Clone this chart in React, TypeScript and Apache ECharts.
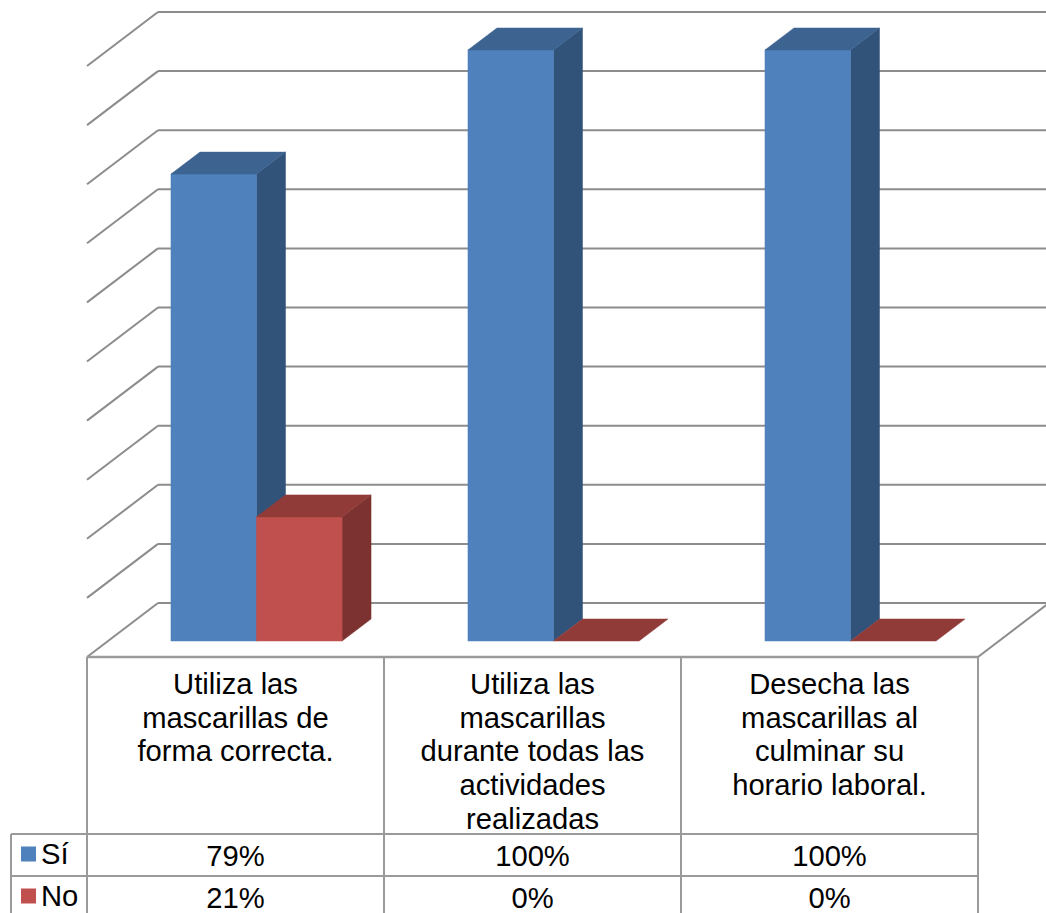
import React, { useEffect, useRef } from "react";
import * as echarts from "echarts";

const categories = [
  "Utiliza las\nmascarillas de\nforma correcta.",
  "Utiliza las\nmascarillas\ndurante todas las\nactividades\nrealizadas",
  "Desecha las\nmascarillas al\nculminar su\nhorario laboral.",
];
const siValues = [79, 100, 100];
const noValues = [21, 0, 0];
const gridTicks = [0, 10, 20, 30, 40, 50, 60, 70, 80, 90, 100];
const seriesNames = ["Sí", "No"];

const FONT = "'Liberation Sans', Arial, sans-serif";
const FONT_SIZE = 29.2;
const GRID_COLOR = "#8c8c8c";
const TABLE_COLOR = "#9a9a9a";

// geometry of the pseudo 3D box, relative to the plane of the bars
const FRONT_Y = 16;
const BACK = { x: 71, y: -38 };
const BAR_DEPTH = { x: 29, y: -22 };
const BAR_OFFSET_X = 21;
const BAR_RATIO = 0.288;

const poly = (points: number[][], fill: string, z2 = 0) => ({
  type: "polygon",
  z2,
  shape: { points },
  style: { fill, stroke: fill, lineWidth: 0.5 },
});

const bar3d = (colors: { front: string; top: string; side: string }, seriesPos: number) => (_p: any, api: any) => {
  const i = api.value(0);
  const v = api.value(1);
  const [cx, y1] = api.coord([i, v]);
  const [, y0] = api.coord([i, 0]);
  const w = api.size([1, 0])[0] * BAR_RATIO;
  const x0 = cx + BAR_OFFSET_X + (seriesPos - 1) * w;
  const x1 = x0 + w;
  const dx = BAR_DEPTH.x;
  const dy = BAR_DEPTH.y;
  const children: any[] = [];
  if (v > 0) {
    children.push(poly([[x1, y1], [x1 + dx, y1 + dy], [x1 + dx, y0 + dy], [x1, y0]], colors.side));
    children.push(poly([[x0, y0], [x1, y0], [x1, y1], [x0, y1]], colors.front));
  }
  children.push(poly([[x0, y1], [x1, y1], [x1 + dx, y1 + dy], [x0 + dx, y1 + dy]], colors.top));
  return { type: "group", children };
};

const line = (x1: number, y1: number, x2: number, y2: number, stroke: string, lineWidth = 2) => ({
  type: "line",
  shape: { x1, y1, x2, y2 },
  style: { stroke, lineWidth },
});

const renderWalls = (_p: any, api: any) => {
  const t = api.value(1);
  const n = categories.length;
  const [cFirst, y] = api.coord([0, t]);
  const [cLast] = api.coord([n - 1, t]);
  const half = api.size([1, 0])[0] / 2;
  const xl = cFirst - half;
  const xr = cLast + half;
  const frontY = y + FRONT_Y;
  const backY = y + BACK.y;
  const children: any[] = [
    line(xl, frontY, xl + BACK.x, backY, GRID_COLOR),
    line(xl + BACK.x, backY, xr + BACK.x, backY, GRID_COLOR),
  ];
  if (t === 0) {
    children.push(line(xl, frontY, xr, frontY, TABLE_COLOR, 2.5));
    children.push(line(xr, frontY, xr + BACK.x, backY, GRID_COLOR));
  }
  return { type: "group", children };
};

const ROW_TOP = 834;
const ROW_H = 42;
const TABLE_BOTTOM = 913;

const renderTable = (_p: any, api: any) => {
  const i = api.value(0);
  const [cx] = api.coord([i, 0]);
  const half = api.size([1, 0])[0] / 2;
  const [, y0] = api.coord([i, 0]);
  const top = y0 + FRONT_Y;
  const left = cx - half;
  const right = cx + half;
  const children: any[] = [
    line(right, top, right, TABLE_BOTTOM, TABLE_COLOR),
    line(left, ROW_TOP, right, ROW_TOP, TABLE_COLOR),
    line(left, ROW_TOP + ROW_H, right, ROW_TOP + ROW_H, TABLE_COLOR),
  ];
  if (i === 0) {
    children.push(line(left, top, left, TABLE_BOTTOM, TABLE_COLOR));
    children.push(line(11, ROW_TOP, left, ROW_TOP, TABLE_COLOR));
    children.push(line(11, ROW_TOP + ROW_H, left, ROW_TOP + ROW_H, TABLE_COLOR));
    children.push(line(11, ROW_TOP, 11, TABLE_BOTTOM, TABLE_COLOR));
  }
  [siValues[i], noValues[i]].forEach((v, r) => {
    children.push({
      type: "text",
      style: {
        x: cx,
        y: ROW_TOP + ROW_H * r + 22,
        text: v + "%",
        fill: "#000000",
        font: `${FONT_SIZE}px ${FONT}`,
        align: "center",
        verticalAlign: "middle",
      },
    });
  });
  return { type: "group", children };
};

export default function App() {
  const ref = useRef<HTMLDivElement>(null);
  useEffect(() => {
    const chart = echarts.init(ref.current!, undefined, { renderer: "svg" });
    chart.setOption({
      animation: false,
      backgroundColor: "#ffffff",
      textStyle: { fontFamily: FONT },
      grid: { left: 87, width: 891, top: 50, height: 591, containLabel: false },
      legend: {
        data: seriesNames,
        orient: "vertical",
        left: 21,
        top: 839,
        padding: 0,
        itemWidth: 15,
        itemHeight: 15,
        itemGap: 12,
        icon: "rect",
        selectedMode: false,
        textStyle: { fontFamily: FONT, fontSize: FONT_SIZE, color: "#000", lineHeight: 30 },
      },
      xAxis: {
        type: "category",
        data: categories,
        axisLine: { show: false },
        axisTick: { show: false },
        splitLine: { show: false },
        axisLabel: {
          interval: 0,
          hideOverlap: false,
          margin: 26,
          color: "#000",
          fontFamily: FONT,
          fontSize: FONT_SIZE,
          lineHeight: 33.7,
          align: "center",
          verticalAlign: "top",
        },
      },
      yAxis: {
        type: "value",
        min: 0,
        max: 100,
        interval: 10,
        axisLabel: { show: false },
        axisLine: { show: false },
        axisTick: { show: false },
        splitLine: { show: false },
      },
      series: [
        {
          type: "custom",
          silent: true,
          z: 1,
          clip: false,
          renderItem: renderWalls,
          data: gridTicks.map((t) => [0, t]),
          encode: { x: 0, y: 1 },
        },
        {
          type: "custom",
          silent: true,
          z: 1,
          clip: false,
          renderItem: renderTable,
          data: categories.map((_, i) => [i]),
          encode: { x: 0 },
        },
        {
          name: seriesNames[0],
          type: "custom",
          z: 2,
          clip: false,
          itemStyle: { color: "#4f81bd" },
          renderItem: bar3d({ front: "#4f81bd", top: "#3d6390", side: "#325379" }, 0),
          data: siValues.map((v, i) => [i, v]),
          encode: { x: 0, y: 1 },
        },
        {
          name: seriesNames[1],
          type: "custom",
          z: 3,
          clip: false,
          itemStyle: { color: "#c0504d" },
          renderItem: bar3d({ front: "#c0504d", top: "#913b39", side: "#7c3230" }, 1),
          data: noValues.map((v, i) => [i, v]),
          encode: { x: 0, y: 1 },
        },
      ],
    });
    return () => chart.dispose();
  }, []);
  return <div ref={ref} style={{ position: "absolute", left: 0, top: 0, width: 1046, height: 913 }} />;
}
